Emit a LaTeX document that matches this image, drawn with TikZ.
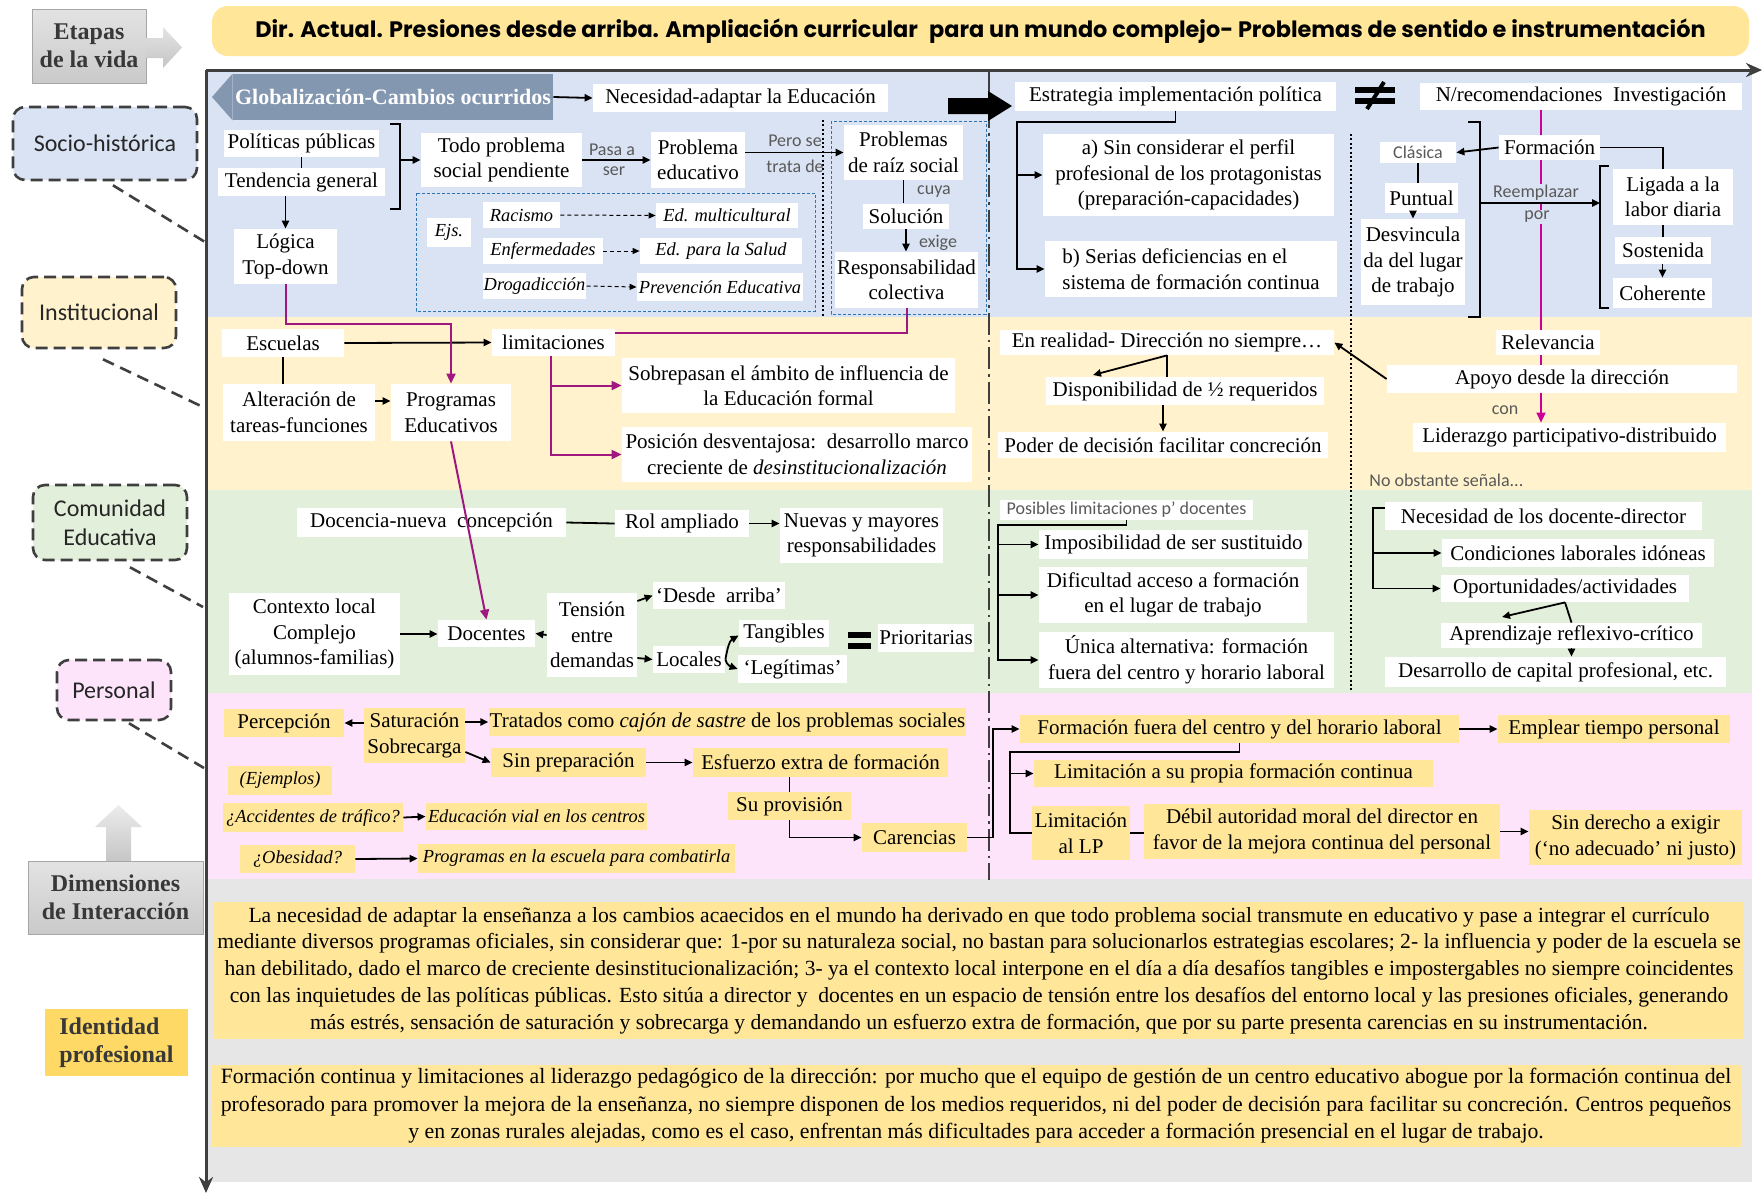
\documentclass[tikz,border=0pt]{standalone}
\usepackage{fontspec}
\setmainfont{Liberation Serif}
\newfontfamily\labfont{Carlito}
\newfontfamily\titlefont{Poppins}
\usetikzlibrary{arrows.meta}
\definecolor{bandA}{HTML}{DAE3F3}
\definecolor{bandB}{HTML}{FFF2CC}
\definecolor{bandC}{HTML}{E2EFDA}
\definecolor{bandD}{HTML}{FDE4FB}
\definecolor{bandE}{HTML}{E7E6E6}
\definecolor{titleY}{HTML}{FFE699}
\definecolor{gold}{HTML}{FFD966}
\definecolor{slate}{HTML}{8497B0}
\definecolor{purp}{HTML}{A0187F}
\definecolor{mage}{HTML}{CC0099}
\definecolor{axisc}{HTML}{3F3F3F}
\definecolor{hand}{HTML}{595959}
\definecolor{dashblue}{HTML}{2E75B6}
\newcommand\ndfont{\fontsize{10.5}{12.8}\selectfont}
\newcommand\hwfont{\labfont\fontsize{9}{10.5}\selectfont}
\newcommand\dimfont{\labfont\fontsize{12}{14.5}\selectfont}
\pgfdeclarelayer{bg}
\pgfdeclarelayer{mid}
\pgfsetlayers{bg,mid,main}
\tikzset{
  sz/.style 2 args={minimum width=#1*0.5pt, minimum height=#2*0.5pt},
  wb/.style={fill=white, inner sep=0.5pt, align=center, font=\ndfont},
  yb/.style={fill=titleY, inner sep=0.5pt, align=center, font=\ndfont},
  itx/.style={font=\fontsize{9.2}{11.5}\selectfont\itshape},
  hw/.style={font=\hwfont, text=hand, inner sep=0.5pt},
  ln/.style={line width=0.9pt, draw=black},
  arr/.style={ln, -{Triangle[length=4pt,width=3.6pt]}},
  darr/.style={line width=0.5pt, dash pattern=on 2pt off 1.5pt, -{Triangle[length=3.5pt,width=3pt]}},
  pl/.style={draw=purp, line width=1pt},
  parr/.style={-{Triangle[length=5pt,width=4.5pt]}},
  ml/.style={draw=mage, line width=0.8pt},
  marr/.style={-{Triangle[length=5pt,width=4.5pt]}},
  dimlab/.style={draw=axisc, line width=1.3pt, dash pattern=on 6pt off 3pt, rounded corners=6pt, align=center, font=\dimfont, text=black!85},
  dlink/.style={draw=axisc, line width=1.3pt, dash pattern=on 6pt off 3.5pt},
  graybox/.style={draw=gray!70, top color=gray!22, bottom color=gray!42, align=center, font=\fontsize{12}{14}\selectfont\bfseries, text=black!78},
  bdash/.style={draw=dashblue, line width=0.5pt, dash pattern=on 1.5pt off 1pt},
  axisline/.style={draw=axisc, line width=1.5pt, -{Stealth[length=8pt,width=7pt]}},
  dashdot/.style={draw=axisc, line width=1.3pt, dash pattern=on 11pt off 2.5pt on 1.2pt off 2.5pt},
  dotline/.style={draw=black, line width=1pt, dash pattern=on 1pt off 1.2pt},
}
\begin{document}
\begin{tikzpicture}[x=0.5pt,y=-0.5pt]
\useasboundingbox (0,0) rectangle (1764,1195);

% ---------- background bands ----------
\begin{pgfonlayer}{bg}
\fill[white] (0,0) rectangle (1764,1195);
\fill[bandA] (208,72) rectangle (1752,317);
\fill[bandB] (208,317) rectangle (1752,490);
\fill[bandC] (208,490) rectangle (1752,693);
\fill[bandD] (208,693) rectangle (1752,879);
\fill[bandE] (208,879) rectangle (1752,1182);
\end{pgfonlayer}

% ---------- axes ----------
\coordinate (O) at (206,70);
\coordinate (Xend) at (1762,70);
\coordinate (Yend) at (206,1193);
\draw[axisline] (O) -- (Xend);
\draw[axisline] (O) -- (Yend);

% ---------- title and left column ----------
\node[fill=titleY, rounded corners=8pt, sz={1537}{50}, font=\titlefont\bfseries\fontsize{11.2}{14}\selectfont] (title) at (980.5,31)
  {Dir. Actual. Presiones desde arriba. Ampliación curricular\enspace para un mundo complejo- Problemas de sentido e instrumentación};

\node[graybox, sz={114}{74}] (etapas) at (89,46) {Etapas\\de la vida};
\shade[top color=gray!22, bottom color=gray!45] (146,38) -- (163,38) -- (163,27) -- (182,47.5) -- (163,68) -- (163,58) -- (146,58) -- cycle;

\node[dimlab, fill=bandA, sz={184}{73}] (socio) at (105,143.5) {Socio-histórica};
\node[dimlab, fill=bandB, sz={154}{71}] (instit) at (99,312.5) {Institucional};
\node[dimlab, fill=bandC, sz={154}{75}] (comun) at (110,522.5) {Comunidad\\Educativa};
\node[dimlab, fill=bandD, sz={114}{60}] (personal) at (114,690) {Personal};
\coordinate (ax1) at (205,242);
\coordinate (ax2) at (203,407);
\coordinate (ax3) at (203,607);
\coordinate (ax4) at (204,768);
\draw[dlink] ([xshift=4pt,yshift=-2pt]socio.south) -- (ax1);
\draw[dlink] ([xshift=2pt,yshift=-5pt]instit.south) -- (ax2);
\draw[dlink] ([xshift=10pt,yshift=-3pt]comun.south) -- (ax3);
\draw[dlink] ([xshift=7.5pt,yshift=-1pt]personal.south) -- (ax4);

\shade[top color=gray!15, bottom color=gray!45] (106,861) -- (106,827) -- (95,827) -- (118.5,805) -- (142,827) -- (131,827) -- (131,861) -- cycle;
\node[graybox, sz={175}{73}] (dimen) at (115.5,897.5) {Dimensiones\\de Interacción};
\node[fill=gold, sz={143}{67}, align=left, font=\fontsize{12}{14}\selectfont\bfseries, text=black!78] (ident) at (116.5,1042.5) {Identidad\\profesional};

% ---------- separators ----------
\begin{pgfonlayer}{mid}
\draw[dashdot] (989,72) -- (989,880);
\draw[dotline] (823,120) -- (823,317);
\draw[dotline] (1351,134) -- (1351,692);
\draw[bdash] (416,193) rectangle (815,311);
\draw[bdash] (831,121) rectangle (986,314);
\end{pgfonlayer}

% ---------- band 1: socio-historical ----------
\node[fill=slate, text=white, inner sep=0pt, sz={320}{46}, font=\fontsize{11}{13}\selectfont\bfseries] (glob) at (393,97) {Globalización-Cambios ocurridos};
\fill[slate] (glob.north west) -- (212,97) -- (glob.south west) -- cycle;
\node[wb, sz={295}{28}] (necesidad) at (740.5,98) {Necesidad-adaptar la Educación};
\draw[arr] (glob.east) -- (necesidad.west);
\fill (948,98) -- (988,98) -- (988,91) -- (1012,106) -- (988,121) -- (988,114) -- (948,114) -- cycle;
\node[wb, sz={321}{29}] (estrategia) at (1175.5,96.5) {Estrategia implementación política};
\fill (1355,87) rectangle (1395,93);
\fill (1355,98) rectangle (1395,104);
\draw[line width=2pt] (1384,82) -- (1367,109);
\node[wb, sz={322}{27}] (nrecom) at (1581,96.5) {N/recomendaciones\enspace Investigación};

\node[wb, sz={155}{27}] (politicas) at (301.5,143.5) {Políticas públicas};
\node[wb, sz={167}{28}] (tendencia) at (301.5,182) {Tendencia general};
\draw[ln] (politicas) -- (tendencia);
\draw[ln] (390,124) -- (400,124) -- (400,209) -- (390,209);
\coordinate (brA) at (400,160);
\node[wb, sz={161}{54}] (todo) at (501.5,160) {Todo problema\\social pendiente};
\draw[arr] (brA) -- (todo.west);
\node[wb, sz={94}{56}] (educ) at (698,160) {Problema\\educativo};
\draw[arr] (todo.east) -- (educ.west);
\node[hw] (lpasa) at (612,150) {Pasa a};
\node[hw] (lser) at (614,171) {ser};
\node[wb, sz={119}{55}] (raiz) at (903.5,152.5) {Problemas\\de raíz social};
\draw[arr] (educ.east |- raiz.west) -- (raiz.west);
\node[hw] (lpero) at (795,141) {Pero se};
\node[hw] (ltrata) at (795,166) {trata de};
\node[wb, sz={86}{25}] (solucion) at (906,216) {Solución};
\node[wb, sz={143}{56}] (resp) at (906.5,280) {Responsabilidad\\colectiva};
\draw[ln] (raiz.south) -- (raiz.south |- solucion.north);
\draw[arr] (solucion.south) -- (solucion.south |- resp.north);
\node[hw] (lcuya) at (934,192) {cuya};
\node[hw] (lexige) at (938,243) {exige};

\node[wb, itx, sz={44}{29}] (ejs) at (449,232.5) {Ejs.};
\node[wb, itx, sz={77}{26}] (racismo) at (521.5,215) {Racismo};
\node[wb, itx, sz={142}{25}] (multic) at (727,215.5) {Ed. multicultural};
\node[wb, itx, sz={120}{26}] (enferm) at (543,251) {Enfermedades};
\node[wb, itx, sz={162}{26}] (salud) at (721,251) {Ed. para la Salud};
\node[wb, itx, sz={103}{26}] (droga) at (534.5,286) {Drogadicción};
\node[wb, itx, sz={166}{28}] (prevencion) at (720,287) {Prevención Educativa};
\draw[darr] (racismo.east) -- (multic.west);
\draw[darr] (enferm.east) -- (salud.west);
\draw[darr] (droga.east) -- (prevencion.west);

\node[wb, sz={103}{55}] (logica) at (285.5,256.5) {Lógica\\Top-down};
\draw[arr] (tendencia.south -| logica.north) -- (logica.north);

\node[wb, sz={291}{82}] (boxa) at (1188.5,175) {a) Sin considerar el perfil\\profesional de los protagonistas\\(preparación-capacidades)};
\node[wb, sz={292}{56}, align=left] (boxb) at (1191,269) {b) Serias deficiencias en el\\sistema de formación continua};
\coordinate (ebr) at (1017,122);
\draw[arr] (estrategia.south) |- (ebr) |- (boxb.west);
\draw[arr] (ebr |- boxa.west) -- (boxa.west);

% magenta thread of the research recommendations
\coordinate (mg0) at (1541,110);
\node[wb, sz={104}{25}] (relevancia) at (1548,342.5) {Relevancia};
\node[wb, sz={350}{28}] (apoyo) at (1562,379) {Apoyo desde la dirección};
\node[wb, sz={313}{29}] (liderazgo) at (1569.5,437.5) {Liderazgo participativo-distribuido};
\begin{pgfonlayer}{mid}
\draw[ml] (mg0) -- (mg0 |- apoyo.south);
\end{pgfonlayer}
\draw[ml, marr] (mg0 |- apoyo.south) -- (mg0 |- liderazgo.north);

\node[wb, sz={101}{25}] (formacion) at (1549.5,147.5) {Formación};
\node[hw, fill=white, sz={76}{21}] (clasica) at (1418,152.5) {Clásica};
\node[wb, sz={73}{30}] (puntual) at (1421.5,198) {Puntual};
\node[wb, sz={104}{86}] (desv) at (1413,262) {Desvincula\\da del lugar\\de trabajo};
\draw[arr] (formacion.west) -- (clasica.east);
\draw[ln] (clasica.south) -- (clasica.south |- puntual.north);
\draw[arr] (desv.north |- puntual.south) -- (desv.north);
\draw[ln] (1468,122) -- (1480,122) -- (1480,317) -- (1468,317);
\draw[ln] (1609,166) -- (1600,166) -- (1600,308) -- (1609,308);
\coordinate (rbr) at (1480,203);
\coordinate (lbr) at (1600,203);
\node[hw, fill=bandA] (lreem) at (1536,193) {Reemplazar};
\node[hw, fill=bandA] (lpor) at (1537,217) {por};
\draw[arr] (rbr) -- (lbr);
\node[wb, sz={120}{56}] (ligada) at (1673,197) {Ligada a la\\labor diaria};
\node[wb, sz={96}{27}] (sostenida) at (1663,250.5) {Sostenida};
\node[wb, sz={99}{30}] (coherente) at (1662.5,293) {Coherente};
\draw[ln] (formacion.east) -| ([xshift=-5pt]ligada.north);
\draw[ln] (sostenida.north |- ligada.south) -- (sostenida.north);
\draw[arr] (coherente.north |- sostenida.south) -- (coherente.north);

% ---------- band 2: institutional ----------
\node[wb, sz={122}{28}] (escuelas) at (283,343) {Escuelas};
\node[wb, sz={123}{27}] (limitaciones) at (553.5,342.5) {limitaciones};
\node[wb, sz={152}{57}] (alteracion) at (299,412.5) {Alteración de\\tareas-funciones};
\node[wb, sz={120}{57}] (programas) at (451,412.5) {Programas\\Educativos};
\node[wb, sz={333}{55}] (sobrepasan) at (788.5,385.5) {Sobrepasan el ámbito de influencia de\\la Educación formal};
\node[wb, sz={350}{55}] (posicion) at (797,454.5) {Posición desventajosa:\enspace desarrollo marco\\creciente de \textit{desinstitucionalización}};
\draw[arr] (escuelas.east) -- (limitaciones.west);
\draw[ln] (escuelas.south) -- (escuelas.south |- alteracion.north);
\draw[arr] ([yshift=5.75pt]alteracion.east) -- ([yshift=5.75pt]programas.west);
\coordinate (pk) at (451,324);
\draw[pl, parr] (logica.south) |- (pk) -- (programas.north);
\draw[pl] (resp.south) |- ([yshift=4.75pt]limitaciones.east);
\draw[pl, parr] ([xshift=-1.25pt]limitaciones.south) |- (sobrepasan.west);
\draw[pl, parr] ([xshift=-1.25pt]limitaciones.south) |- (posicion.west);

\node[wb, sz={334}{25}] (realidad) at (1167,342.5) {En realidad- Dirección no siempre…};
\node[wb, sz={278}{28}] (dispon) at (1185,391) {Disponibilidad de ½ requeridos};
\node[wb, sz={330}{26}] (poder) at (1163,445) {Poder de decisión facilitar concreción};
\coordinate (rl) at (1093,375);
\draw[arr] (realidad.south) -- (rl);
\draw[ln] (realidad.south) -- (realidad.south |- dispon.north);
\draw[arr] (poder.north |- dispon.south) -- (poder.north);
\draw[arr] (apoyo.west) -- (realidad.east);
\node[hw] (lcon) at (1505,410) {con};
\node[hw, anchor=west] (lnoobs) at (1368,480) {No obstante señala...};

% ---------- band 3: educational community ----------
\node[wb, sz={269}{29}] (docencia) at (431.5,522.5) {Docencia-nueva\enspace concepción};
\node[wb, sz={134}{27}] (rol) at (682,523.5) {Rol ampliado};
\node[wb, sz={163}{55}] (nuevas) at (861.5,535.5) {Nuevas y mayores\\responsabilidades};
\draw[ln] (docencia.east) -- (rol.west);
\draw[arr] (rol.east) -- (rol.east -| nuevas.west);
\node[wb, sz={171}{82}] (contexto) at (314.5,634) {Contexto local\\Complejo\\(alumnos-familias)};
\node[wb, sz={97}{27}] (docentes) at (486.5,633.5) {Docentes};
\node[wb, sz={90}{84}] (tension) at (592,635) {Tensión\\entre\\demandas};
\draw[arr] (contexto.east) -- (contexto.east -| docentes.west);
\draw[arr] (tension.west) -- (docentes.east);
\draw[pl, parr] (programas.south) -- (docentes.north);
\node[wb, sz={132}{27}] (desde) at (719,595.5) {‘Desde\enspace arriba’};
\node[wb, sz={72}{27}] (locales) at (689,659.5) {Locales};
\node[wb, sz={90}{27}] (tangibles) at (784,633.5) {Tangibles};
\node[wb, sz={109}{28}] (legitimas) at (792.5,669) {‘Legítimas’};
\node[wb, sz={96}{28}] (priorit) at (926,638) {Prioritarias};
\draw[arr] ([yshift=17pt]tension.east) -- (desde.west);
\draw[arr] ([yshift=-11.5pt]tension.east) -- (locales.west);
\draw[arr] (locales.east) to[out=80,in=210] ([yshift=-1pt]tangibles.west);
\draw[arr] (locales.east) to[out=-80,in=160] (legitimas.west);
\fill (848,632) rectangle (871,638);
\fill (848,643) rectangle (871,649);

\node[hw, fill=white, sz={253}{20}] (posibles) at (1126.5,510) {Posibles limitaciones p’ docentes};
\node[wb, sz={269}{29}] (imposib) at (1173.5,544.5) {Imposibilidad de ser sustituido};
\node[wb, sz={268}{56}] (dificultad) at (1173,595) {Dificultad acceso a formación\\en el lugar de trabajo};
\node[wb, sz={295}{56}] (unica) at (1186.5,660) {Única alternativa: formación\\fuera del centro y horario laboral};
\coordinate (pb) at (998,525);
\draw[arr] (posibles.south) |- (pb) |- (unica.west);
\draw[arr] (pb |- imposib.west) -- (imposib.west);
\draw[arr] (pb |- dificultad.west) -- (dificultad.west);

\node[wb, sz={317}{28}] (necdoc) at (1543.5,516) {Necesidad de los docente-director};
\node[wb, sz={272}{28}] (condic) at (1578,553) {Condiciones laborales idóneas};
\node[wb, sz={248}{27}] (oportun) at (1565,588.5) {Oportunidades/actividades};
\node[wb, sz={261}{25}] (aprend) at (1571.5,635.5) {Aprendizaje reflexivo-crítico};
\node[wb, sz={341}{30}] (desarrollo) at (1555.5,672) {Desarrollo de capital profesional, etc.};
\coordinate (nb) at (1373,508);
\draw[arr] ([yshift=4pt]necdoc.west) -- (nb) |- (oportun.west);
\draw[arr] (nb |- condic.west) -- (condic.west);
\coordinate (oa) at (1502,617);
\draw[arr] (oportun.south) -- (oa);
\draw[ln] (oportun.south) -- (aprend.north);
\draw[arr] (aprend.south) -- (aprend.south |- desarrollo.north);

% ---------- band 4: personal ----------
\node[yb, sz={120}{28}] (percepcion) at (284,723) {Percepción};
\node[yb, sz={101}{55}] (saturacion) at (414.5,735.5) {Saturación\\Sobrecarga};
\node[yb, sz={473}{28}] (tratados) at (727.5,722) {Tratados como \textit{cajón de sastre} de los problemas sociales};
\node[yb, sz={155}{29}] (sinprep) at (568.5,762.5) {Sin preparación};
\node[yb, sz={255}{29}] (esfuerzo) at (820.5,762.5) {Esfuerzo extra de formación};
\node[yb, sz={123}{28}] (suprov) at (789.5,806) {Su provisión};
\node[yb, sz={105}{29}] (carencias) at (914.5,837.5) {Carencias};
\node[yb, itx, sz={104}{29}] (ejemplos) at (280,780.5) {(Ejemplos)};
\node[yb, itx, sz={180}{29}] (accid) at (313,817.5) {¿Accidentes de tráfico?};
\node[yb, itx, sz={221}{27}] (vial) at (536.5,816.5) {Educación vial en los centros};
\node[yb, itx, sz={115}{28}] (obesidad) at (297.5,859) {¿Obesidad?};
\node[yb, itx, sz={317}{29}] (progesc) at (576.5,858.5) {Programas en la escuela para combatirla};
\draw[arr] ([yshift=6.25pt]saturacion.west) -- (percepcion.east);
\draw[arr] ([yshift=6.75pt]saturacion.east) -- (tratados.west);
\draw[arr] ([yshift=-8.25pt]saturacion.east) -- (sinprep.west);
\draw[arr] (sinprep.east) -- (esfuerzo.west);
\draw[ln] (suprov.north |- esfuerzo.south) -- (suprov.north);
\draw[arr] (suprov.south) |- (carencias.west);
\draw[arr] (accid.east) -- (vial.west);
\draw[arr] (obesidad.east) -- (progesc.west);

\node[yb, sz={439}{28}] (formfuera) at (1239.5,729) {Formación fuera del centro y del horario laboral};
\node[yb, sz={232}{28}] (emplear) at (1614,729) {Emplear tiempo personal};
\node[yb, sz={399}{27}] (limprop) at (1233.5,773.5) {Limitación a su propia formación continua};
\node[yb, sz={98}{54}] (limlp) at (1081,833) {Limitación\\al LP};
\node[yb, sz={356}{55}] (debil) at (1322,831.5) {Débil autoridad moral del director en\\favor de la mejora continua del personal};
\node[yb, sz={213}{55}] (sinder) at (1635.5,837.5) {Sin derecho a exigir\\(‘no adecuado’ ni justo)};
\coordinate (cb) at (993,837.5);
\draw[arr] (carencias.east) -- (cb) |- (formfuera.west);
\draw[arr] (formfuera.east) -- (emplear.west);
\coordinate (fb) at (1010,752);
\draw[ln] (formfuera.south) |- (fb) |- (limlp.west);
\draw[arr] (fb |- limprop.west) -- (limprop.west);
\draw[ln] (limlp.east) -- (limlp.east -| debil.west);
\draw[arr] (debil.east) -- (debil.east -| sinder.west);

% ---------- band 5: professional identity ----------
\node[yb, sz={1530}{137}, font=\fontsize{10.8}{13.4}\selectfont] (txtA) at (979,970.5)
{La necesidad de adaptar la enseñanza a los cambios acaecidos en el mundo ha derivado en que todo problema social transmute en educativo y pase a integrar el currículo\\
mediante diversos programas oficiales, sin considerar que: 1-por su naturaleza social, no bastan para solucionarlos estrategias escolares; 2- la influencia y poder de la escuela se\\
han debilitado, dado el marco de creciente desinstitucionalización; 3- ya el contexto local interpone en el día a día desafíos tangibles e impostergables no siempre coincidentes\\
con las inquietudes de las políticas públicas. Esto sitúa a director y\enspace docentes en un espacio de tensión entre los desafíos del entorno local y las presiones oficiales, generando\\
más estrés, sensación de saturación y sobrecarga y demandando un esfuerzo extra de formación, que por su parte presenta carencias en su instrumentación.};
\node[yb, sz={1530}{82}, font=\fontsize{10.9}{13.7}\selectfont] (txtB) at (976,1106)
{Formación continua y limitaciones al liderazgo pedagógico de la dirección: por mucho que el equipo de gestión de un centro educativo abogue por la formación continua del\\
profesorado para promover la mejora de la enseñanza, no siempre disponen de los medios requeridos, ni del poder de decisión para facilitar su concreción. Centros pequeños\\
y en zonas rurales alejadas, como es el caso, enfrentan más dificultades para acceder a formación presencial en el lugar de trabajo.};
\end{tikzpicture}
\end{document}
